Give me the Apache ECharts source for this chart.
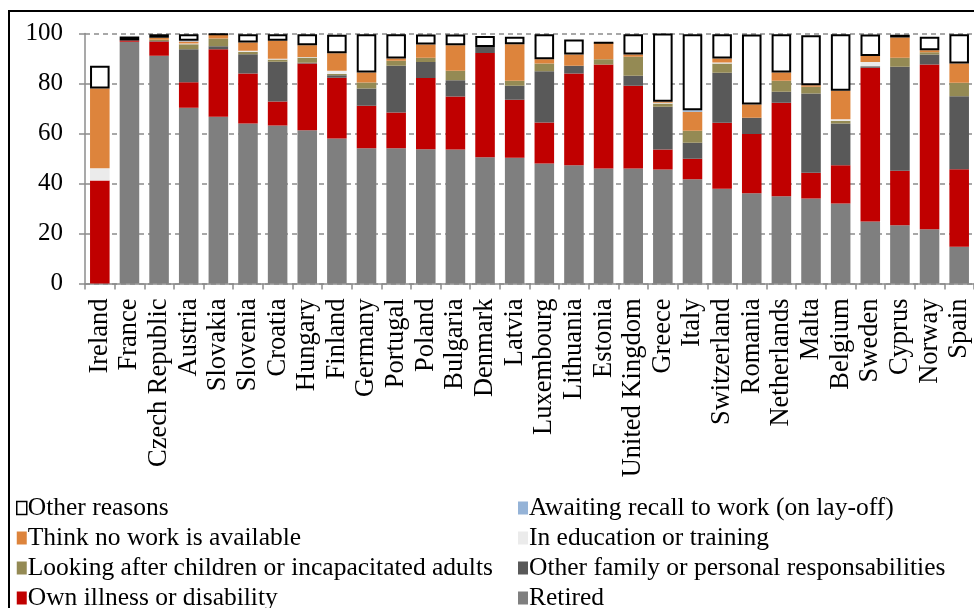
<!DOCTYPE html>
<html>
<head>
<meta charset="utf-8">
<script src="https://cdn.jsdelivr.net/npm/echarts@6/dist/echarts.min.js"></script>
<style>
  html, body { margin: 0; padding: 0; background: #fff; }
  #chart { width: 974px; height: 608px; }
</style>
</head>
<body>
<div id="chart"></div>
<script>
var countries = ['Ireland', 'France', 'Czech Republic', 'Austria', 'Slovakia', 'Slovenia', 'Croatia', 'Hungary',
    'Finland', 'Germany', 'Portugal', 'Poland', 'Bulgaria', 'Denmark', 'Latvia', 'Luxembourg', 'Lithuania',
    'Estonia', 'United Kingdom', 'Greece', 'Italy', 'Switzerland', 'Romania', 'Netherlands', 'Malta',
    'Belgium', 'Sweden', 'Cyprus', 'Norway', 'Spain'];

// shares in %
var retired   = [0, 96.7, 91.1, 70.3, 66.7, 64.0, 63.2, 61.3, 58.0, 54.1, 54.1, 53.7, 53.6, 50.5, 50.3, 48.0, 47.3, 46.0, 46.0, 45.6, 41.7, 37.9, 36.1, 34.9, 34.0, 32.0, 24.8, 23.3, 21.7, 14.7];
var illness   = [41.2, 0.5, 5.7, 10.2, 27.0, 20.0, 9.6, 26.7, 24.3, 17.0, 14.3, 28.5, 21.2, 41.7, 23.2, 16.4, 36.7, 41.6, 33.1, 8.0, 8.2, 26.4, 23.7, 37.4, 10.3, 15.3, 61.5, 21.8, 65.9, 31.0];
var family    = [0, 0, 0.2, 13.2, 1.2, 7.7, 15.9, 0.3, 1.0, 6.9, 18.7, 6.4, 6.5, 2.4, 5.6, 20.5, 3.1, 0, 4.0, 17.1, 6.4, 20.0, 6.5, 4.4, 31.7, 16.7, 0.6, 41.6, 4.0, 29.2];
var children  = [0, 0, 0.5, 2.0, 3.1, 1.0, 0.9, 2.1, 0.5, 2.4, 2.0, 1.7, 3.8, 0, 2.0, 3.1, 0, 2.1, 7.6, 1.3, 4.8, 3.7, 0, 4.4, 2.7, 1.1, 0, 3.6, 0.9, 5.4];
var education = [4.9, 0, 0, 0.3, 0, 0.4, 0.3, 0.2, 1.3, 0, 0, 0, 0, 0, 0, 0, 0, 0, 0, 0.3, 0, 0.4, 0, 0, 0, 0.6, 1.7, 0, 0, 0];
var noWork    = [31.9, 0, 0.8, 0.8, 1.7, 3.3, 7.2, 4.7, 7.0, 4.0, 0.9, 5.3, 10.2, 0, 14.6, 1.7, 4.5, 6.6, 0.9, 0.4, 7.6, 1.6, 5.3, 3.3, 0.6, 11.4, 2.4, 8.1, 0.8, 7.7];
var awaiting  = [0, 0, 0, 0.3, 0, 0, 0, 0, 0, 0, 0, 0, 0, 0, 0, 0, 0, 0, 0, 0, 0.6, 0, 0, 0, 0, 0, 0, 0, 0, 0];
var other     = [9.1, 1.6, 1.4, 2.6, 0, 3.3, 2.6, 4.4, 7.4, 15.3, 9.7, 4.0, 4.3, 4.4, 3.0, 10.0, 6.0, 0, 8.1, 27.3, 30.4, 9.7, 28.0, 15.3, 20.0, 22.6, 8.6, 1.1, 5.4, 11.7];

var yTicks = [0, 20, 40, 60, 80, 100];

var font = "'Liberation Serif', 'Times New Roman', serif";

// bottom to top
var stack = [
    {name: 'Retired', data: retired, color: '#7f7f7f'},
    {name: 'Own illness or disability', data: illness, color: '#c00000'},
    {name: 'Other family or personal responsabilities', data: family, color: '#595959'},
    {name: 'Looking after children or incapacitated adults', data: children, color: '#948a54'},
    {name: 'In education or training', data: education, color: '#ebebeb'},
    {name: 'Think no work is available', data: noWork, color: '#dd843c'},
    {name: 'Awaiting recall to work (on lay-off)', data: awaiting, color: '#95b3d7'},
    {name: 'Other reasons', data: other, color: '#ffffff'}
];

var series = [];
for (var n = 0; n < stack.length; n++) {
    var s = stack[n];
    var item = {color: s.color};
    if (s.name == 'Other reasons') {
        item.borderColor = '#000';
        item.borderWidth = 2;
    }
    series.push({
        name: s.name,
        type: 'bar',
        stack: 'all',
        data: s.data,
        barCategoryGap: '34%',
        itemStyle: item,
        emphasis: {disabled: true}
    });
}

var legendText = {fontFamily: font, fontSize: 25.5, lineHeight: 26, color: '#000', padding: [0, 0, 0, -4]};

var myChart = echarts.init(document.getElementById('chart'));
var option = {
    animation: false,
    textStyle: {fontFamily: font},
    graphic: [{
        type: 'rect',
        z: -1,
        shape: {x: 9, y: 11, width: 1000, height: 700},
        style: {fill: 'none', stroke: '#000', lineWidth: 2}
    }],
    legend: [{
        orient: 'vertical',
        left: 11,
        top: 490,
        height: 160,
        itemWidth: 10,
        itemHeight: 13,
        itemGap: 4,
        icon: 'rect',
        textStyle: legendText,
        data: [
            {name: 'Other reasons', itemStyle: {borderColor: '#000', borderWidth: 1.5}},
            'Think no work is available',
            'Looking after children or incapacitated adults',
            'Own illness or disability'
        ]
    }, {
        orient: 'vertical',
        left: 513,
        top: 490,
        height: 160,
        itemWidth: 10,
        itemHeight: 13,
        itemGap: 4,
        icon: 'rect',
        textStyle: legendText,
        data: [
            'Awaiting recall to work (on lay-off)',
            'In education or training',
            'Other family or personal responsabilities',
            'Retired'
        ]
    }],
    grid: {
        left: 85,
        top: 33.5,
        width: 891,
        height: 250,
        containLabel: false
    },
    xAxis: [{
        type: 'category',
        data: countries,
        axisLine: {lineStyle: {color: '#8c8c8c', width: 1.5}},
        axisTick: {show: true, length: 6, lineStyle: {color: '#8c8c8c', width: 1.5}},
        axisLabel: {
            interval: 0,
            rotate: 90,
            margin: 15,
            color: '#000',
            fontFamily: font,
            fontSize: 26.5
        }
    }],
    yAxis: [{
        type: 'value',
        min: yTicks[0],
        max: yTicks[yTicks.length - 1],
        interval: 20,
        axisLine: {show: true, lineStyle: {color: '#8c8c8c', width: 1.5}},
        axisTick: {show: true, length: 6, lineStyle: {color: '#8c8c8c', width: 1.5}},
        axisLabel: {
            margin: 22,
            color: '#000',
            fontFamily: font,
            fontSize: 25
        },
        splitLine: {lineStyle: {color: '#8c8c8c', type: [5, 4], width: 1.5}}
    }],
    series: series
};

myChart.setOption(option);
</script>
</body>
</html>
